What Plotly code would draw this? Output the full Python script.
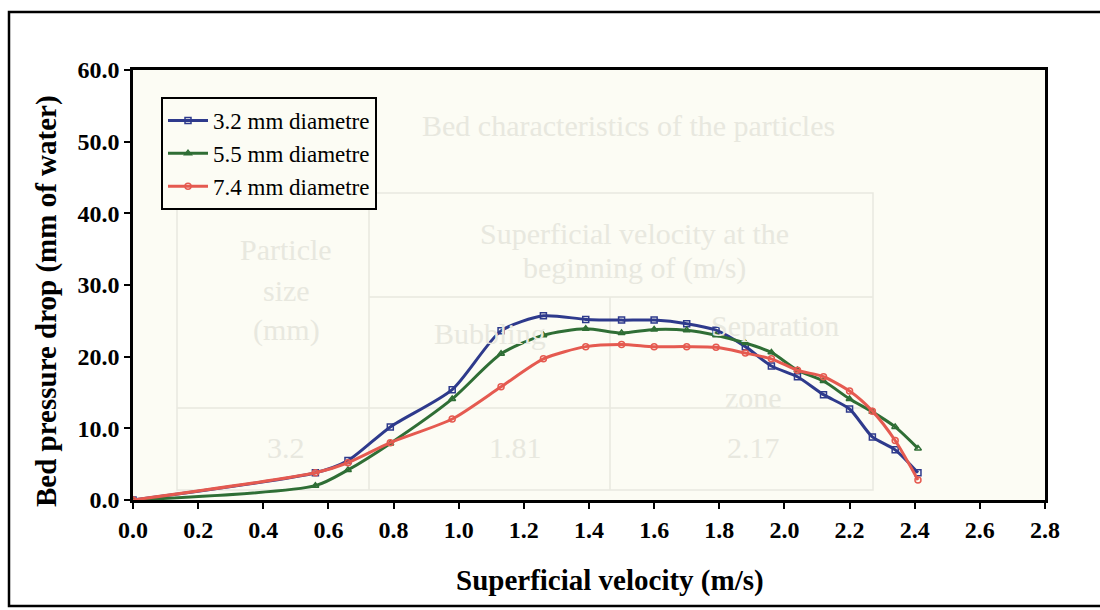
import plotly.graph_objects as go

# Superficial velocity (m/s) at each measurement
velocity = [0.0, 0.56, 0.66, 0.79, 0.98, 1.13, 1.26, 1.39, 1.50, 1.60,
            1.70, 1.79, 1.88, 1.96, 2.04, 2.12, 2.20, 2.27, 2.34, 2.41]

# Bed pressure drop (mm of water) per particle size
drop_3_2 = [0.0, 3.8, 5.5, 10.2, 15.4, 23.6, 25.7, 25.2, 25.1, 25.1,
            24.6, 23.7, 21.4, 18.7, 17.2, 14.7, 12.7, 8.8, 7.0, 3.8]
drop_5_5 = [0.0, 2.0, 4.2, 7.9, 14.1, 20.4, 23.0, 23.9, 23.3, 23.8,
            23.7, 23.0, 21.9, 20.6, 18.1, 16.6, 14.1, 12.3, 10.2, 7.2]
drop_7_4 = [0.0, 3.8, 5.2, 8.0, 11.3, 15.8, 19.7, 21.4, 21.7, 21.4,
            21.4, 21.3, 20.5, 19.7, 18.1, 17.2, 15.2, 12.4, 8.3, 2.8]

series_names = ["3.2 mm diametre", "5.5 mm diametre", "7.4 mm diametre"]
x_ticks = [0.0, 0.2, 0.4, 0.6, 0.8, 1.0, 1.2, 1.4, 1.6, 1.8, 2.0, 2.2, 2.4, 2.6, 2.8]
y_ticks = [0.0, 10.0, 20.0, 30.0, 40.0, 50.0, 60.0]

W, H = 1100, 610
L, R, T, B = 133, 55, 70, 110
PW, PH = W - L - R, H - T - B

def px(x):
    return (x - L) / PW

def py(y):
    return (H - B - y) / PH

SERIF = "Liberation Serif"
styles = [
    dict(color="#2e3a8c", symbol="square-open"),
    dict(color="#2f6e35", symbol="triangle-up-open"),
    dict(color="#e55a50", symbol="circle-open"),
]

fig = go.Figure()
for name, ys, st in zip(series_names, [drop_3_2, drop_5_5, drop_7_4], styles):
    fig.add_trace(go.Scatter(
        x=velocity, y=ys, name=name, mode="lines+markers",
        line=dict(color=st["color"], width=3, shape="spline", smoothing=0.7),
        marker=dict(symbol=st["symbol"], size=6, color=st["color"],
                    line=dict(color=st["color"], width=1.5)),
    ))

# faint table printed on the page behind the chart
ghost = "#e8e8df"
shapes = []
shapes.append(dict(type="rect", xref="paper", yref="paper",
                   x0=px(177), x1=px(873), y0=py(490), y1=py(193),
                   line=dict(color=ghost, width=1.5), layer="below"))
for (x0, y0, x1, y1) in [(177, 408, 873, 408), (369, 297, 873, 297),
                         (369, 193, 369, 490), (610, 297, 610, 490)]:
    shapes.append(dict(type="line", xref="paper", yref="paper",
                       x0=px(x0), x1=px(x1), y0=py(y0), y1=py(y1),
                       line=dict(color=ghost, width=1.5), layer="below"))

ghost_text = [
    (286, 250, "Particle"), (286, 290, "size"), (286, 330, "(mm)"),
    (634, 233, "Superficial velocity at the"), (634, 268, "beginning of (m/s)"),
    (490, 333, "Bubbling"), (775, 325, "Separation"), (753, 397, "zone"),
    (286, 447, "3.2"), (515, 447, "1.81"), (753, 447, "2.17"),
]
annotations = [dict(x=px(420), y=py(125), xref="paper", yref="paper",
                    text="Bed characteristics of the particles", showarrow=False,
                    xanchor="left", yanchor="middle",
                    font=dict(family=SERIF, size=30, color=ghost))]
for (x, y, t) in ghost_text:
    annotations.append(dict(x=px(x), y=py(y), xref="paper", yref="paper", text=t,
                            showarrow=False, xanchor="center", yanchor="middle",
                            font=dict(family=SERIF, size=30, color=ghost)))

# axis titles
annotations.append(dict(x=px(610), y=py(580), xref="paper", yref="paper",
                        text="<b>Superficial velocity (m/s)</b>", showarrow=False,
                        xanchor="center", yanchor="middle",
                        font=dict(family=SERIF, size=29, color="black")))
annotations.append(dict(x=px(46), y=py(301), xref="paper", yref="paper",
                        text="<b>Bed pressure drop (mm of water)</b>", showarrow=False,
                        textangle=-90, xanchor="center", yanchor="middle",
                        font=dict(family=SERIF, size=29, color="black")))

# outer frame around the whole figure
shapes.append(dict(type="rect", xref="paper", yref="paper",
                   x0=px(9), x1=px(1110), y0=py(606), y1=py(12),
                   line=dict(color="black", width=2.5), layer="above"))

fig.update_layout(
    width=W, height=H,
    margin=dict(l=L, r=R, t=T, b=B),
    paper_bgcolor="white", plot_bgcolor="#fcfcf4",
    font=dict(family=SERIF, color="black"),
    showlegend=True,
    legend=dict(x=px(161), y=py(97), xanchor="left", yanchor="top",
                bgcolor="#fcfcf4", bordercolor="black", borderwidth=2,
                font=dict(family=SERIF, size=23, color="black"),
                itemwidth=40, tracegroupgap=0),
    shapes=shapes, annotations=annotations,
)
axis_common = dict(showgrid=False, zeroline=False, showline=True, linecolor="black",
                   linewidth=2.5, mirror=True, ticks="outside", ticklen=6, tickwidth=2,
                   tickcolor="black", tickfont=dict(family=SERIF, size=24, color="black"))
fig.update_xaxes(range=[0, 2.8], tickvals=x_ticks,
                 ticktext=[f"<b>{v:.1f}</b>" for v in x_ticks], **axis_common)
fig.update_yaxes(range=[0, 60], tickvals=y_ticks,
                 ticktext=[f"<b>{v:.1f}</b>" for v in y_ticks], **axis_common)

fig.write_html("out.html")
